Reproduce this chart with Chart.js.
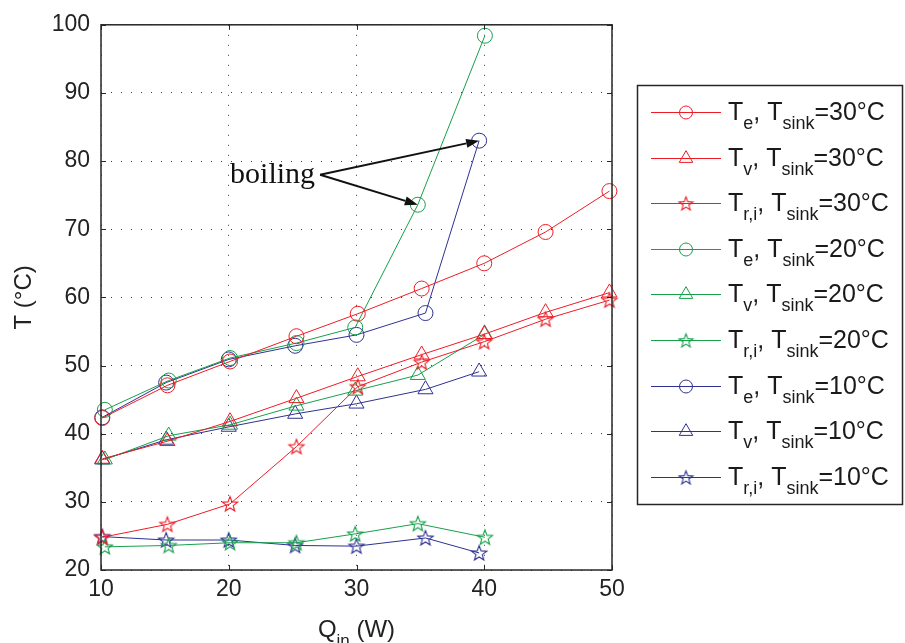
<!DOCTYPE html>
<html>
<head>
<meta charset="utf-8">
<script src="https://cdn.jsdelivr.net/npm/chart.js@4.4.0/dist/chart.umd.min.js"></script>
<style>
  html, body { margin: 0; padding: 0; background: #fff; }
  #wrap { width: 905px; height: 643px; }
</style>
</head>
<body>
<div id="wrap"><canvas id="tempChart" width="905" height="643"></canvas></div>
<script>
// heat input (W) for each sink temperature
const q30 = [10.1, 15.2, 20.1, 25.3, 30.1, 35.1, 40.0, 44.8, 49.8];
const q20 = [10.3, 15.3, 20.1, 25.3, 29.9, 34.8, 40.05];
const q10 = [10.1, 15.1, 20.0, 25.2, 30.0, 35.4, 39.6];

// temperatures (°C)
const te30 = [42.3, 47.1, 50.6, 54.3, 57.6, 61.3, 65.0, 69.6, 75.6];
const tv30 = [36.3, 38.9, 41.8, 45.2, 48.4, 51.6, 54.6, 57.8, 60.7];
const tri30 = [24.8, 26.7, 29.7, 38.1, 46.9, 50.5, 53.5, 56.8, 59.6];

const te20 = [43.5, 47.8, 51.1, 53.3, 55.6, 73.6, 98.4];
const tv20 = [36.2, 39.7, 41.3, 44.1, 46.3, 48.6, 54.6];
const tri20 = [23.4, 23.6, 24.0, 24.0, 25.3, 26.8, 24.8];

const te10 = [42.4, 47.5, 50.9, 52.9, 54.5, 57.7, 83.0];
const tv10 = [36.2, 39.1, 41.0, 42.9, 44.4, 46.5, 49.1];
const tri10 = [24.9, 24.4, 24.4, 23.6, 23.5, 24.7, 22.5];

const xTicks = [10, 20, 30, 40, 50];
const yTicks = [20, 30, 40, 50, 60, 70, 80, 90, 100];

const sinkLabels = ['30', '20', '10'];
const tempSubs = ['e', 'v', 'r,i'];

// "boiling" note position (data coords)
const boilingAt = { x: 27.15, y: 78 };

const RED = '#ee1c24', GREEN = '#16a04b', BLUE = '#2e3192';
const sinkColors = [RED, GREEN, BLUE];
const FONT = '"Liberation Sans", Arial, Helvetica, sans-serif';

function makeStar(color, r) {
    const c = document.createElement('canvas');
    const s = Math.ceil(r * 2 + 4);
    c.width = s; c.height = s;
    const g = c.getContext('2d');
    g.strokeStyle = color;
    g.lineWidth = 1.1;
    g.beginPath();
    for (let i = 0; i < 10; i++) {
        const rad = i % 2 === 0 ? r : r * 0.42;
        const a = -Math.PI / 2 + i * Math.PI / 5;
        const px = s / 2 + Math.cos(a) * rad, py = s / 2 + 0.6 + Math.sin(a) * rad;
        if (i === 0) g.moveTo(px, py); else g.lineTo(px, py);
    }
    g.closePath();
    g.stroke();
    return c;
}

function pts(xs, ys) {
    return xs.map((x, i) => ({ x: x, y: ys[i] }));
}

const seriesData = [
    [pts(q30, te30), pts(q30, tv30), pts(q30, tri30)],
    [pts(q20, te20), pts(q20, tv20), pts(q20, tri20)],
    [pts(q10, te10), pts(q10, tv10), pts(q10, tri10)]
];

const datasets = [];
const legendItems = [];
sinkLabels.forEach((sink, si) => {
    const col = sinkColors[si];
    tempSubs.forEach((sub, ti) => {
        let style = 'circle', radius = 7.5, legStyle = 'circle', legRadius = 6.5;
        if (ti === 1) { style = 'triangle'; radius = 8.7; legStyle = 'triangle'; legRadius = 7.8; }
        if (ti === 2) { style = makeStar(col, 8); legStyle = makeStar(col, 7.2); }
        datasets.push({
            label: 'T' + sub + ', Tsink=' + sink + '°C',
            data: seriesData[si][ti],
            borderColor: col,
            backgroundColor: 'rgba(0,0,0,0)',
            borderWidth: 1,
            pointStyle: style,
            pointRadius: radius,
            pointBorderColor: col,
            pointBorderWidth: 1,
            pointBackgroundColor: 'rgba(0,0,0,0)',
            tension: 0,
            clip: false
        });
        legendItems.push({ color: col, style: legStyle, radius: legRadius, sub: sub, sink: sink });
    });
});

const framePlugin = {
    id: 'frame',
    afterDatasetsDraw(chart) {
        const { ctx, chartArea: a, scales } = chart;
        ctx.save();
        ctx.strokeStyle = '#262626';
        ctx.lineWidth = 1.5;
        ctx.strokeRect(a.left, a.top, a.right - a.left, a.bottom - a.top);
        ctx.lineWidth = 1;
        ctx.beginPath();
        xTicks.forEach(v => {
            const px = Math.round(scales.x.getPixelForValue(v)) + 0.5;
            ctx.moveTo(px, a.bottom); ctx.lineTo(px, a.bottom - 5);
            ctx.moveTo(px, a.top); ctx.lineTo(px, a.top + 5);
        });
        yTicks.forEach(v => {
            const py = Math.round(scales.y.getPixelForValue(v)) + 0.5;
            ctx.moveTo(a.left, py); ctx.lineTo(a.left + 5, py);
            ctx.moveTo(a.right, py); ctx.lineTo(a.right - 5, py);
        });
        ctx.stroke();

        // boiling note with arrows
        const sx = scales.x.getPixelForValue(boilingAt.x);
        const sy = scales.y.getPixelForValue(boilingAt.y);
        ctx.fillStyle = '#111';
        ctx.font = '30px "Liberation Serif", "Times New Roman", serif';
        ctx.textAlign = 'right';
        ctx.textBaseline = 'alphabetic';
        ctx.fillText('boiling', sx - 5, sy + 8);
        const targets = [
            { x: q20[5], y: te20[5] },
            { x: q10[6], y: te10[6] }
        ];
        ctx.strokeStyle = '#111';
        ctx.lineWidth = 2;
        targets.forEach(t => {
            const tx = scales.x.getPixelForValue(t.x);
            const ty = scales.y.getPixelForValue(t.y);
            const ang = Math.atan2(ty - sy, tx - sx);
            const hl = 13, hw = 4.5;
            const bx = tx - Math.cos(ang) * hl, by = ty - Math.sin(ang) * hl;
            ctx.beginPath();
            ctx.moveTo(sx, sy);
            ctx.lineTo(bx, by);
            ctx.stroke();
            ctx.beginPath();
            ctx.moveTo(tx, ty);
            ctx.lineTo(bx - Math.sin(ang) * hw, by + Math.cos(ang) * hw);
            ctx.lineTo(bx + Math.sin(ang) * hw, by - Math.cos(ang) * hw);
            ctx.closePath();
            ctx.fill();
        });

        // axis titles
        ctx.fillStyle = '#222';
        ctx.textAlign = 'left';
        ctx.font = '24px ' + FONT;
        const qW = ctx.measureText('Q').width;
        ctx.font = '17px ' + FONT;
        const inW = ctx.measureText('in').width;
        ctx.font = '24px ' + FONT;
        const wW = ctx.measureText(' (W)').width;
        const cx = (a.left + a.right) / 2;
        const x0 = cx - (qW + inW + wW) / 2;
        const base = a.bottom + 67;
        ctx.fillText('Q', x0, base);
        ctx.font = '17px ' + FONT;
        ctx.fillText('in', x0 + qW, base + 9);
        ctx.font = '24px ' + FONT;
        ctx.fillText(' (W)', x0 + qW + inW, base);

        ctx.save();
        ctx.translate(31, (a.top + a.bottom) / 2);
        ctx.rotate(-Math.PI / 2);
        ctx.textAlign = 'center';
        ctx.fillText('T (°C)', 0, 0);
        ctx.restore();
        ctx.restore();
    },
    afterDraw(chart) {
        const { ctx } = chart;
        ctx.save();
        ctx.strokeStyle = '#262626';
        ctx.lineWidth = 1.5;
        ctx.strokeRect(637.5, 85.5, 265, 419);
        ctx.restore();
        legendItems.forEach((it, i) => {
            const y = Math.round(112 + i * 45.6) + 0.5;
            ctx.save();
            ctx.strokeStyle = it.color;
            ctx.lineWidth = 1;
            ctx.beginPath();
            ctx.moveTo(651, y); ctx.lineTo(721, y);
            ctx.stroke();
            ctx.fillStyle = 'rgba(0,0,0,0)';
            Chart.helpers.drawPoint(ctx, { pointStyle: it.style, radius: it.radius, borderWidth: 1, rotation: 0 }, 686, y);
            ctx.restore();
            // rich text label
            ctx.save();
            ctx.fillStyle = '#1a1a1a';
            ctx.textAlign = 'left';
            ctx.textBaseline = 'alphabetic';
            const parts = [
                { t: 'T' }, { t: it.sub, s: 1 }, { t: ', T' }, { t: 'sink', s: 1 }, { t: '=' + it.sink + '°C' }
            ];
            let x = 728;
            const base = y + 7;
            parts.forEach(p => {
                ctx.font = (p.s ? '18px ' : '25px ') + FONT;
                ctx.fillText(p.t, x, p.s ? base + 9 : base);
                x += ctx.measureText(p.t).width;
            });
            ctx.restore();
        });
    }
};

const ctx = document.getElementById('tempChart').getContext('2d');
const tempChart = new Chart(ctx, {
    type: 'line',
    data: { datasets: datasets },
    options: {
        responsive: false,
        animation: false,
        layout: { padding: { top: 19, right: 293, left: 0, bottom: 0 } },
        plugins: {
            legend: { display: false },
            tooltip: { enabled: false }
        },
        scales: {
            x: {
                type: 'linear',
                min: 10,
                max: 50,
                afterFit(s) { s.height = 73; },
                afterBuildTicks(s) { s.ticks = xTicks.map(v => ({ value: v })); },
                ticks: { color: '#222', font: { family: FONT, size: 23 }, padding: 6 },
                grid: { color: '#3a3a3a', lineWidth: 1, drawTicks: false },
                border: { display: false, dash: [1, 9] }
            },
            y: {
                type: 'linear',
                min: 20,
                max: 100,
                afterFit(s) { s.width = 101; },
                afterBuildTicks(s) { s.ticks = yTicks.map(v => ({ value: v })); },
                ticks: { color: '#222', font: { family: FONT, size: 23 }, padding: 11 },
                grid: { color: '#3a3a3a', lineWidth: 1, drawTicks: false },
                border: { display: false, dash: [1, 9] }
            }
        }
    },
    plugins: [framePlugin]
});
</script>
</body>
</html>
